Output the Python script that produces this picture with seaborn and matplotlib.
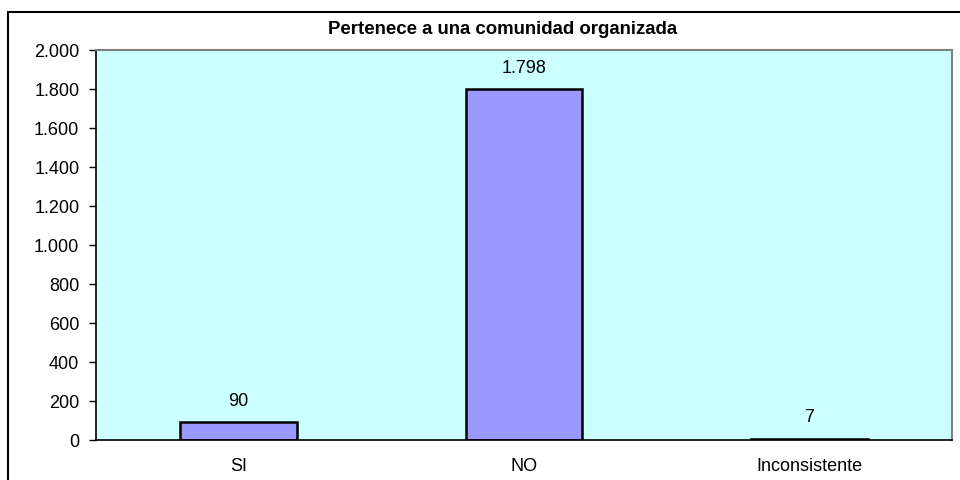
import matplotlib.pyplot as plt
import matplotlib.patches as mpatches
import pandas as pd
import seaborn as sns

categories = ["SI", "NO", "Inconsistente"]
counts = [90, 1798, 7]
y_ticks = [0, 200, 400, 600, 800, 1000, 1200, 1400, 1600, 1800, 2000]

title = "Pertenece a una comunidad organizada"


def fmt(v):
    return f"{v:,}".replace(",", ".")


sns.set_style("white")
plt.rcParams["font.family"] = ["Liberation Sans", "DejaVu Sans"]
plt.rcParams["text.color"] = "black"
plt.rcParams["xtick.color"] = "black"
plt.rcParams["ytick.color"] = "black"

df = pd.DataFrame({"cat": categories, "n": counts})

fig = plt.figure(figsize=(9.6, 4.81), dpi=100)
ax = fig.add_axes([96 / 960, 1 - 441 / 481, (952 - 96) / 960, (441 - 51) / 481])
ax.set_facecolor("#CCFFFF")

sns.barplot(data=df, x="cat", y="n", color="#9999FF", edgecolor="black",
            linewidth=1.8, width=0.41, saturation=1, ax=ax)

for i, v in enumerate(counts):
    ax.annotate(fmt(v), (i, v), xytext=(0, 10), textcoords="offset points",
                ha="center", va="bottom", fontsize=13, color="black")

ax.set_xlim(-0.5, 2.5)
ax.set_ylim(0, 2000)
ax.set_yticks(y_ticks)
ax.set_yticklabels([fmt(t) for t in y_ticks])
ax.set_xticks(range(len(categories)))
ax.set_xticklabels(categories)
ax.set_xticks([-0.5, 0.5, 1.5, 2.5], minor=True)
ax.tick_params(axis="x", which="major", length=0, pad=12, labelsize=13, labelcolor="black")
ax.tick_params(axis="x", which="minor", length=5, width=1, color="black", direction="out")
ax.tick_params(axis="y", length=5, width=1, color="black", direction="out", pad=7,
               labelsize=13, labelcolor="black", left=True)
ax.set_xlabel("")
ax.set_ylabel("")

for s in ["left", "bottom"]:
    ax.spines[s].set_color("black")
    ax.spines[s].set_linewidth(1.2)
for s in ["top", "right"]:
    ax.spines[s].set_color("#808080")
    ax.spines[s].set_linewidth(1.5)

fig.text(503 / 960, 1 - 30 / 481, title, ha="center", va="center",
         fontsize=13.4, fontweight="bold", color="black")

frame = mpatches.Rectangle((8 / 960, -0.1), 1.2, 1 - 13 / 481 + 0.1, transform=fig.transFigure,
                           fill=False, edgecolor="black", linewidth=1.5, clip_on=False)
fig.patches.append(frame)

fig.savefig("out.png", dpi=100)
